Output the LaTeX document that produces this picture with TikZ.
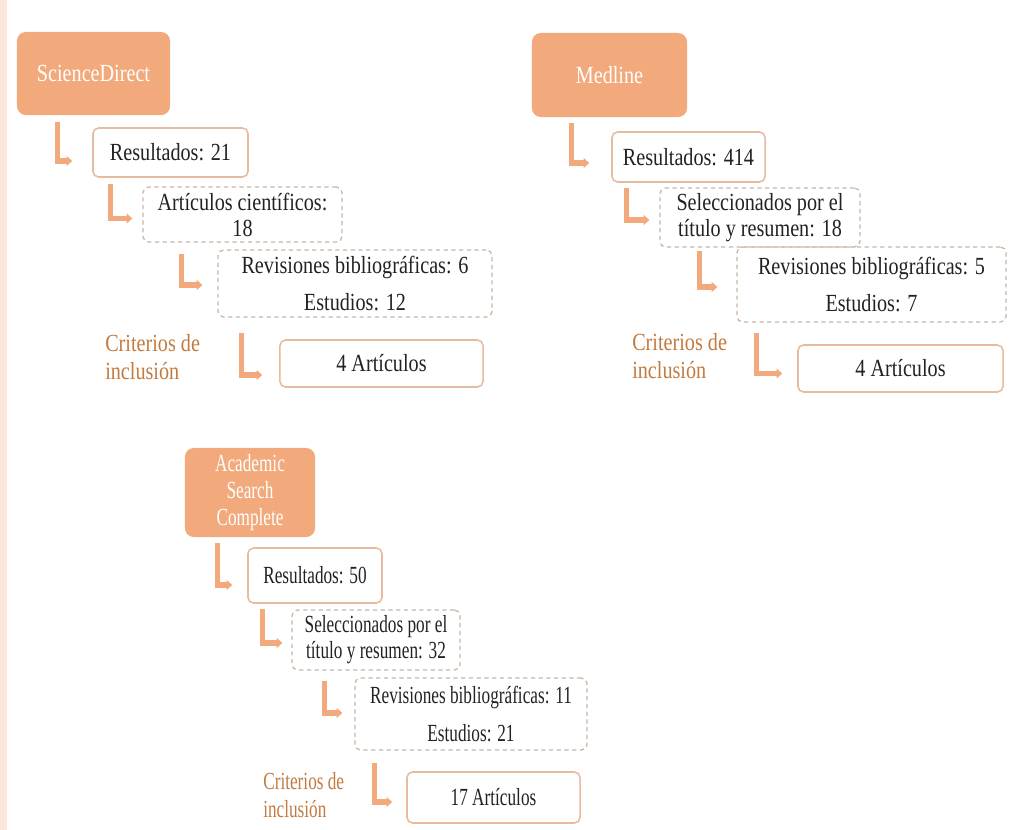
\documentclass[tikz,border=0pt]{standalone}
\usepackage{fontspec}
\setmainfont[FakeStretch=0.82]{Liberation Serif}
\newfontfamily\narrowfont[FakeStretch=0.70]{Liberation Serif}
\usetikzlibrary{arrows.meta,calc}

\definecolor{peach}{HTML}{F2A97C}
\definecolor{strip}{HTML}{FCE8DA}
\definecolor{boxline}{HTML}{E6BB9E}
\definecolor{dashline}{HTML}{C9B3A3}
\definecolor{critcol}{HTML}{C27A3E}
\definecolor{txt}{HTML}{222222}

\begin{document}
\begin{tikzpicture}[
    x=0.025cm, y=-0.025cm,
    font=\fontsize{17.5}{18.5}\selectfont,
    head/.style={
        rectangle,
        fill=peach,
        rounded corners=0.22cm,
        text=white,
        align=center,
        inner sep=0pt
    },
    resbox/.style={
        rectangle,
        draw=boxline,
        line width=1.1pt,
        fill=white,
        rounded corners=0.14cm,
        text=txt,
        align=center,
        inner sep=0pt
    },
    dashbox/.style={
        rectangle,
        draw=dashline,
        line width=0.9pt,
        dash pattern=on 3pt off 2.5pt,
        rounded corners=0.14cm,
        text=txt,
        align=center,
        inner sep=0pt
    },
    crit/.style={
        anchor=west,
        text=critcol,
        align=left,
        inner sep=0pt
    },
    larrow/.style={
        -{Triangle[length=4pt,width=7pt]},
        draw=peach,
        line width=3.6pt
    }
]
\useasboundingbox (0,0) rectangle (1009,830);
\fill[strip] (0,0) rectangle (7,830);

% ScienceDirect
\node[head, minimum width=3.825cm, minimum height=2.075cm] (sd) at (93.5,73.5) {ScienceDirect};
\node[resbox, minimum width=3.875cm, minimum height=1.225cm] (sdres) at (170.5,152.5) {Resultados: 21};
\node[dashbox, minimum width=4.975cm, minimum height=1.375cm] (sdart) at (242.5,214.5) {Artículos científicos:\\18};
\node[dashbox, minimum width=6.85cm, minimum height=1.675cm] (sdrev) at (355,283.5) {Revisiones bibliográficas: 6\\[8pt]Estudios: 12};
\node[crit] (sdcrit) at (105,357) {Criterios de\\[2pt]inclusión};
\node[resbox, minimum width=5.075cm, minimum height=1.175cm] (sdfin) at (381.5,363.5) {4 Artículos};

% Medline
\node[head, minimum width=3.875cm, minimum height=2.1cm] (med) at (609.5,75) {Medline};
\node[resbox, minimum width=3.825cm, minimum height=1.25cm] (medres) at (688.5,157) {Resultados: 414};
\node[dashbox, minimum width=5cm, minimum height=1.475cm] (medsel) at (760,217.5) {Seleccionados por el\\título y resumen: 18};
\node[dashbox, minimum width=6.725cm, minimum height=1.875cm] (medrev) at (871.5,284.5) {Revisiones bibliográficas: 5\\[8pt]Estudios: 7};
\node[crit] (medcrit) at (632,356) {Criterios de\\[2pt]inclusión};
\node[resbox, minimum width=5.125cm, minimum height=1.175cm] (medfin) at (900.5,368.5) {4 Artículos};

% Academic Search Complete
\begin{scope}[font=\narrowfont\fontsize{17.5}{18.5}\selectfont]
\node[head, minimum width=3.25cm, minimum height=2.225cm] (asc) at (250,492.5) {Academic\\[1pt]Search\\[1pt]Complete};
\node[resbox, minimum width=3.35cm, minimum height=1.375cm] (ascres) at (315,575.5) {Resultados: 50};
\node[dashbox, minimum width=4.2cm, minimum height=1.5cm] (ascsel) at (376,640) {Seleccionados por el\\título y resumen: 32};
\node[dashbox, minimum width=5.8cm, minimum height=1.8cm] (ascrev) at (471,714) {Revisiones bibliográficas: 11\\[8pt]Estudios: 21};
\node[crit] (asccrit) at (263,795) {Criterios de\\[2pt]inclusión};
\node[resbox, minimum width=4.325cm, minimum height=1.275cm] (ascfin) at (493.5,797.5) {17 Artículos};
\end{scope}

% L connectors, ScienceDirect
\draw[larrow] ($(sd.south west)+(41,7)$) |- ($(sdres.west)+(-20,8.5)$);
\draw[larrow] ($(sdres.south west)+(18,6)$) |- ($(sdart.west)+(-10,4)$);
\draw[larrow] ($(sdart.south west)+(39,11)$) |- ($(sdrev.west)+(-15,1.5)$);
\draw[larrow] ($(sdrev.south west)+(24,15)$) |- ($(sdfin.west)+(-17,11.5)$);

% L connectors, Medline
\draw[larrow] ($(med.south west)+(40,6)$) |- ($(medres.west)+(-22,6)$);
\draw[larrow] ($(medres.south west)+(15,5)$) |- ($(medsel.west)+(-10,2.5)$);
\draw[larrow] ($(medsel.south west)+(40,3)$) |- ($(medrev.west)+(-19,2.5)$);
\draw[larrow] ($(medrev.south west)+(20,10)$) |- ($(medfin.west)+(-15,5)$);

% L connectors, Academic Search Complete
\draw[larrow] ($(asc.south west)+(33,6)$) |- ($(ascres.west)+(-15,9.5)$);
\draw[larrow] ($(ascres.south west)+(15,5)$) |- ($(ascsel.west)+(-9,3)$);
\draw[larrow] ($(ascsel.south west)+(33,10)$) |- ($(ascrev.west)+(-12,-1)$);
\draw[larrow] ($(ascrev.south west)+(20,12)$) |- ($(ascfin.west)+(-14,4.5)$);

\end{tikzpicture}
\end{document}
